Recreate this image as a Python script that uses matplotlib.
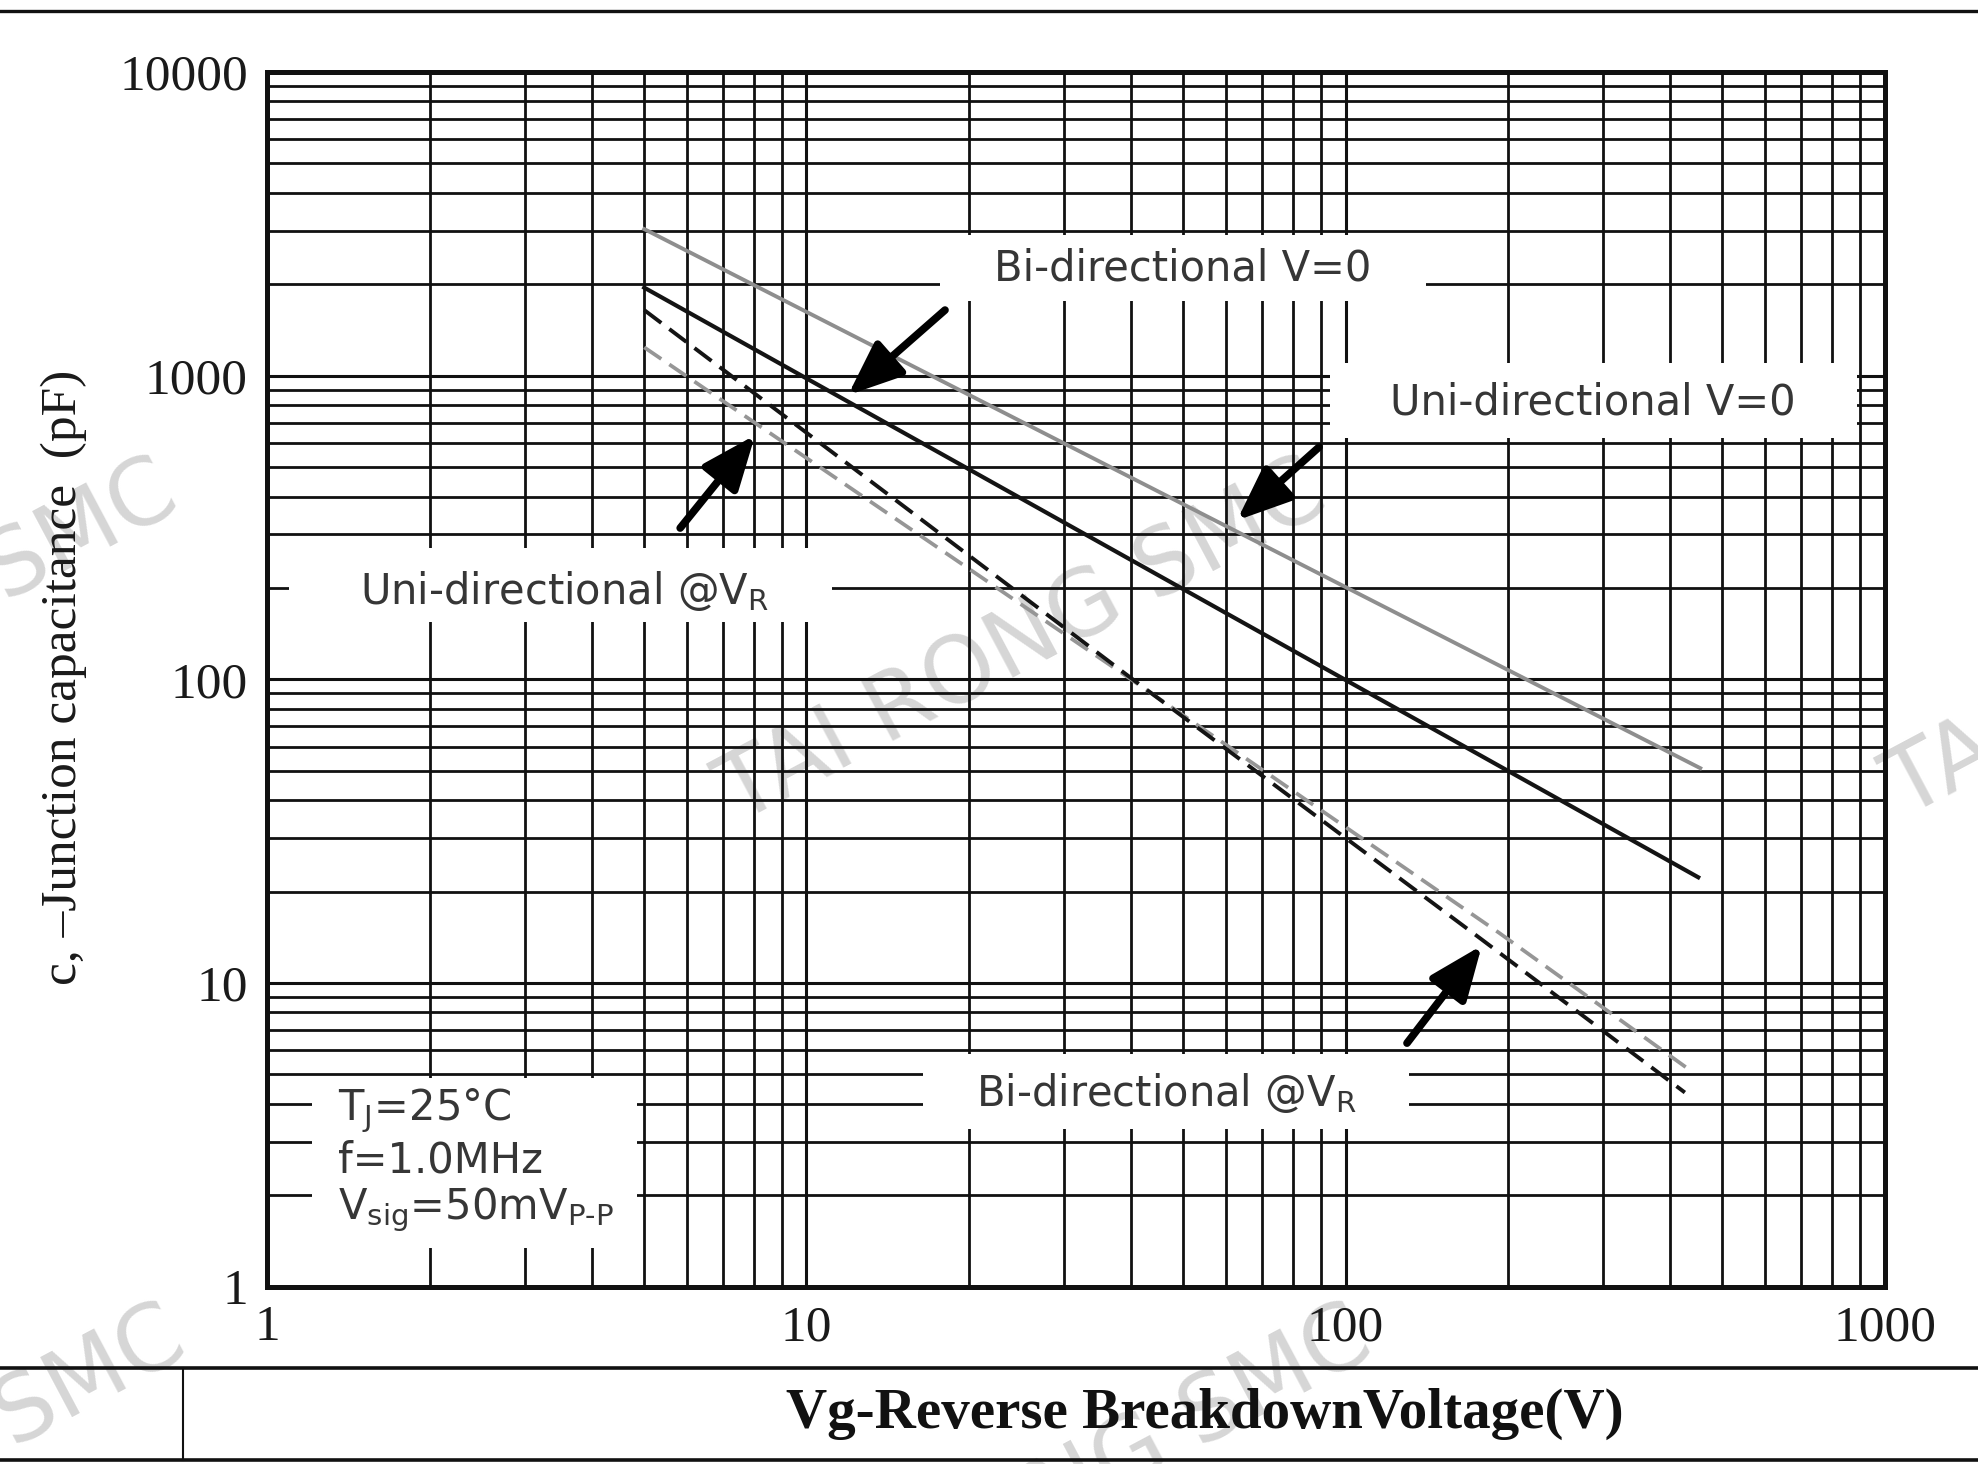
import matplotlib
matplotlib.use("Agg")
import matplotlib.pyplot as plt
from matplotlib.patches import Rectangle
from matplotlib.lines import Line2D
from matplotlib.ticker import LogLocator, NullFormatter

# ---------- data (V -> pF) ----------
uni_v0_x = [5, 455]
uni_v0_c = [3040, 51]
bi_v0_x = [5, 451]
bi_v0_c = [1950, 22.3]
bi_vr_x = [5, 40, 179, 426]
bi_vr_c = [1645, 101, 13.9, 4.36]
uni_vr_x = [5, 40, 193, 428]
uni_vr_c = [1240, 100, 14.6, 5.28]

x_ticks = [1, 10, 100, 1000]
x_tick_labels = ["1", "10", "100", "1000"]
y_ticks = [1, 10, 100, 1000, 10000]
y_tick_labels = ["1", "10", "100", "1000", "10000"]

curve_labels = [
    "Bi-directional V=0",
    "Uni-directional V=0",
    r"Uni-directional @V$_\mathregular{R}$",
    r"Bi-directional @V$_\mathregular{R}$",
]
conditions = [
    r"T$_\mathregular{J}$=25°C",
    "f=1.0MHz",
    r"V$_\mathregular{sig}$=50mV$_\mathregular{P‐P}$",
]

SERIF = ["Liberation Serif", "DejaVu Serif"]
SANS = ["DejaVu Sans"]
INK = "#111111"
LABEL_INK = "#363636"

fig = plt.figure(figsize=(19.78, 14.64), dpi=100)
fig.patch.set_facecolor("white")

# watermark (behind everything)
for wx, wy in [(0.517, 0.561), (-0.064, 0.561), (1.107, 0.565),
               (0.54, -0.017), (-0.06, -0.017)]:
    fig.text(wx, wy, "TAI RONG SMC", fontsize=66, color="#d6d6d6",
             rotation=28, ha="center", va="center", family=SANS, zorder=-1)

ax = fig.add_axes([0.1352, 0.1211, 0.8176, 0.8297])
ax.set_facecolor("none")
ax.set_xscale("log")
ax.set_yscale("log")
ax.set_xlim(1, 1000)
ax.set_ylim(1, 10000)

ax.xaxis.set_minor_locator(LogLocator(base=10, subs=range(2, 10), numticks=20))
ax.yaxis.set_minor_locator(LogLocator(base=10, subs=range(2, 10), numticks=20))
ax.xaxis.set_minor_formatter(NullFormatter())
ax.yaxis.set_minor_formatter(NullFormatter())
ax.set_xticks(x_ticks)
ax.set_xticklabels(x_tick_labels)
ax.set_yticks(y_ticks)
ax.set_yticklabels(y_tick_labels)
ax.tick_params(which="both", length=0)
ax.tick_params(axis="x", pad=13)
ax.tick_params(axis="y", pad=14)
for lab in ax.get_xticklabels() + ax.get_yticklabels():
    lab.set_fontfamily(SERIF)
    lab.set_fontsize(37)
    lab.set_color("#1a1a1a")

ax.set_axisbelow(True)
ax.grid(which="major", color=INK, lw=2.2)
ax.grid(which="minor", color=INK, lw=2.0)
for sp in ax.spines.values():
    sp.set_linewidth(3.6)
    sp.set_color(INK)

# white patches that cut the grid behind the labels (x0, y0, x1, y1)
masks = [
    (17.7, 1760, 141, 2900),
    (93.5, 622, 890, 1100),
    (1.096, 154.6, 11.15, 271.5),
    (16.45, 3.3, 130.9, 5.85),
    (1.21, 1.34, 4.85, 4.85),
]
for x0, y0, x1, y1 in masks:
    ax.add_patch(Rectangle((x0, y0), x1 - x0, y1 - y0, facecolor="white",
                           edgecolor="none", zorder=1))

# curves
ax.plot(uni_v0_x, uni_v0_c, color="#8e8e8e", lw=2.8, zorder=2)
ax.plot(bi_v0_x, bi_v0_c, color="#141414", lw=3.0, zorder=2)
ax.plot(uni_vr_x, uni_vr_c, color="#969696", lw=2.7, ls=(0, (5.5, 2.6)), zorder=2)
ax.plot(bi_vr_x, bi_vr_c, color="#141414", lw=2.8, ls=(0, (5.5, 2.6)), zorder=2.1)

# labels
label_pos = [(49.8, 2249), (287, 819), (3.55, 195), (46.5, 4.34)]
for txt, (lx, ly) in zip(curve_labels, label_pos):
    ax.text(lx, ly, txt, fontsize=30, color=LABEL_INK, family=SANS,
            ha="center", va="center", zorder=3)

cond_y = [3.81, 2.61, 1.79]
for txt, cy in zip(conditions, cond_y):
    ax.text(1.35, cy, txt, fontsize=30, color=LABEL_INK, family=SANS,
            ha="left", va="center", zorder=3)

# arrows (tail -> head)
arrows = [
    ((18.07, 1645), (11.94, 863)),
    ((89.3, 582), (62.9, 334)),
    ((5.83, 315), (8.03, 637)),
    ((130, 6.34), (179, 13.3)),
]
for tail, head in arrows:
    ax.annotate("", xy=head, xytext=tail,
                arrowprops=dict(arrowstyle="-|>,head_length=1.1,head_width=0.45",
                                color="black", lw=5.5, mutation_scale=30,
                                shrinkA=0, shrinkB=0),
                zorder=4)

# axis titles
fig.text(0.032, 0.537, "c, –Junction capacitance  (pF)", rotation=90,
         fontsize=37, family=SERIF, color="#1a1a1a", ha="center", va="center")
fig.text(0.609, 0.034, "Vg-Reverse BreakdownVoltage(V)", fontsize=41,
         fontweight="bold", family=SERIF, color="#111111",
         ha="center", va="center")

# page frame lines
fig.add_artist(Line2D([0, 1], [0.9925, 0.9925], color=INK, lw=2.4))
fig.add_artist(Line2D([0, 1], [0.0656, 0.0656], color=INK, lw=2.6))
fig.add_artist(Line2D([0, 1], [0.0025, 0.0025], color=INK, lw=2.6))
fig.add_artist(Line2D([0.0925, 0.0925], [0.0025, 0.0656], color=INK, lw=1.5))

fig.savefig("out.png", dpi=100)
